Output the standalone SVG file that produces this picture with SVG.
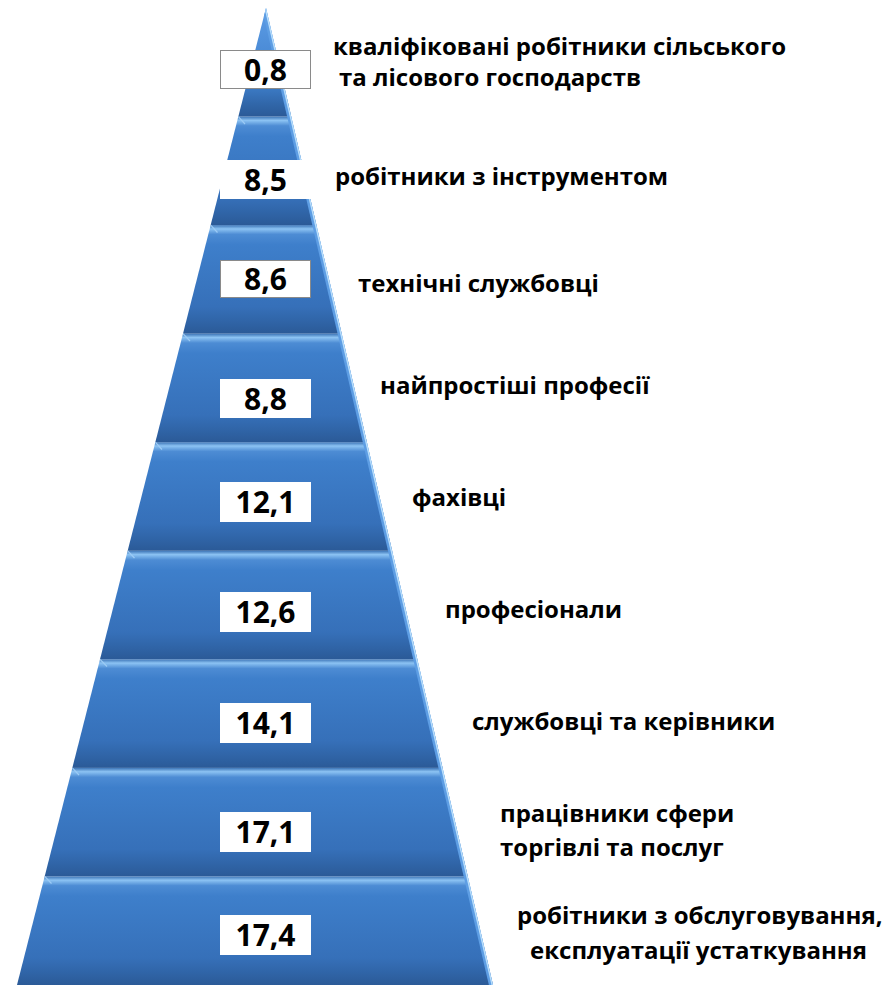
<svg xmlns="http://www.w3.org/2000/svg" width="887" height="985" viewBox="0 0 887 985">
<defs>
<clipPath id="pyr"><polygon points="266,8 17,985 493,985"/></clipPath>
<linearGradient id="layer" x1="0" y1="0" x2="0" y2="1">
<stop offset="0" stop-color="#3c74b6"/>
<stop offset="0.035" stop-color="#8cc3f3"/>
<stop offset="0.085" stop-color="#4d8cd4"/>
<stop offset="0.18" stop-color="#3e7fcb"/>
<stop offset="0.75" stop-color="#3670b9"/>
<stop offset="0.88" stop-color="#3065a8"/>
<stop offset="1" stop-color="#2b5a97"/>
</linearGradient>
<linearGradient id="apex" x1="0" y1="0" x2="0" y2="1">
<stop offset="0" stop-color="#5d9de6"/>
<stop offset="0.7" stop-color="#3e7fcb"/>
<stop offset="0.88" stop-color="#3167aa"/>
<stop offset="1" stop-color="#2b5a97"/>
</linearGradient>
<style>
.lbl{font-family:"Open Sans","Noto Sans","Liberation Sans",sans-serif;font-weight:bold;font-size:24px;fill:#000}
.num{font-family:"Open Sans","Noto Sans","Liberation Sans",sans-serif;font-weight:bold;font-size:30px;fill:#000;text-anchor:middle}
.box{fill:#fff}
.boxb{fill:#fff;stroke:#8a8a8a;stroke-width:1}
.bev{stroke:#9ccbf5;stroke-width:1.2;fill:none}
</style>
</defs>
<g id="pyramid" clip-path="url(#pyr)">
<rect id="band0" x="0" y="8" width="520" height="108.6" fill="url(#apex)"/>
<rect x="0" y="116.6" width="520" height="108.5" fill="url(#layer)"/>
<rect x="0" y="225.1" width="520" height="108.6" fill="url(#layer)"/>
<rect x="0" y="333.7" width="520" height="108.5" fill="url(#layer)"/>
<rect x="0" y="442.2" width="520" height="108.6" fill="url(#layer)"/>
<rect x="0" y="550.8" width="520" height="108.5" fill="url(#layer)"/>
<rect x="0" y="659.3" width="520" height="108.6" fill="url(#layer)"/>
<rect x="0" y="767.9" width="520" height="108.5" fill="url(#layer)"/>
<rect x="0" y="876.4" width="520" height="108.6" fill="url(#layer)"/>
<g class="bev">
<line x1="238.3" y1="116.6" x2="245" y2="124"/>
<line x1="210.7" y1="225.1" x2="217.5" y2="232.5"/>
<line x1="183" y1="333.7" x2="190" y2="341"/>
<line x1="155.3" y1="442.2" x2="162" y2="449.5"/>
<line x1="127.7" y1="550.8" x2="134.5" y2="558"/>
<line x1="100" y1="659.3" x2="107" y2="666.5"/>
<line x1="72.3" y1="767.9" x2="79" y2="775"/>
<line x1="44.7" y1="876.4" x2="51.5" y2="883.5"/>
</g>
<line x1="266" y1="8" x2="493" y2="985" stroke="#5e9ee4" stroke-width="8"/>
<line x1="266" y1="8" x2="493" y2="985" stroke="#b8defc" stroke-width="3"/>
</g>
<g id="n1">
<rect class="boxb" x="220.5" y="50.5" width="90" height="38"/>
<text class="num" x="265.5" y="81">0,8</text>
<text class="lbl" x="333" y="55">кваліфіковані робітники сільського</text>
<text class="lbl" x="339" y="86">та лісового господарств</text>
</g>
<g id="n2">
<rect class="box" x="220" y="160" width="91" height="39"/>
<text class="num" x="265.5" y="191">8,5</text>
<text class="lbl" x="335" y="185">робітники з інструментом</text>
</g>
<g id="n3">
<rect class="boxb" x="220.5" y="260.5" width="90" height="37"/>
<text class="num" x="265.5" y="290">8,6</text>
<text class="lbl" x="358" y="292">технічні службовці</text>
</g>
<g id="n4">
<rect class="box" x="220" y="379" width="91" height="39"/>
<text class="num" x="265.5" y="410">8,8</text>
<text class="lbl" x="380" y="394">найпростіші професії</text>
</g>
<g id="n5">
<rect class="box" x="220" y="482" width="91" height="40"/>
<text class="num" x="265.5" y="513">12,1</text>
<text class="lbl" x="412" y="506">фахівці</text>
</g>
<g id="n6">
<rect class="box" x="220" y="592" width="91" height="40"/>
<text class="num" x="265.5" y="623">12,6</text>
<text class="lbl" x="445" y="618">професіонали</text>
</g>
<g id="n7">
<rect class="box" x="220" y="703" width="91" height="40"/>
<text class="num" x="265.5" y="734">14,1</text>
<text class="lbl" x="472" y="730">службовці та керівники</text>
</g>
<g id="n8">
<rect class="box" x="220" y="812" width="91" height="40"/>
<text class="num" x="265.5" y="843">17,1</text>
<text class="lbl" x="500" y="822">працівники сфери</text>
<text class="lbl" x="500" y="856">торгівлі та послуг</text>
</g>
<g id="n9">
<rect class="box" x="220" y="915" width="91" height="40"/>
<text class="num" x="265.5" y="946">17,4</text>
<text class="lbl" x="517" y="924">робітники з обслуговування,</text>
<text class="lbl" x="530" y="959">експлуатації устаткування</text>
</g>
<g id="connectors"/>
</svg>
